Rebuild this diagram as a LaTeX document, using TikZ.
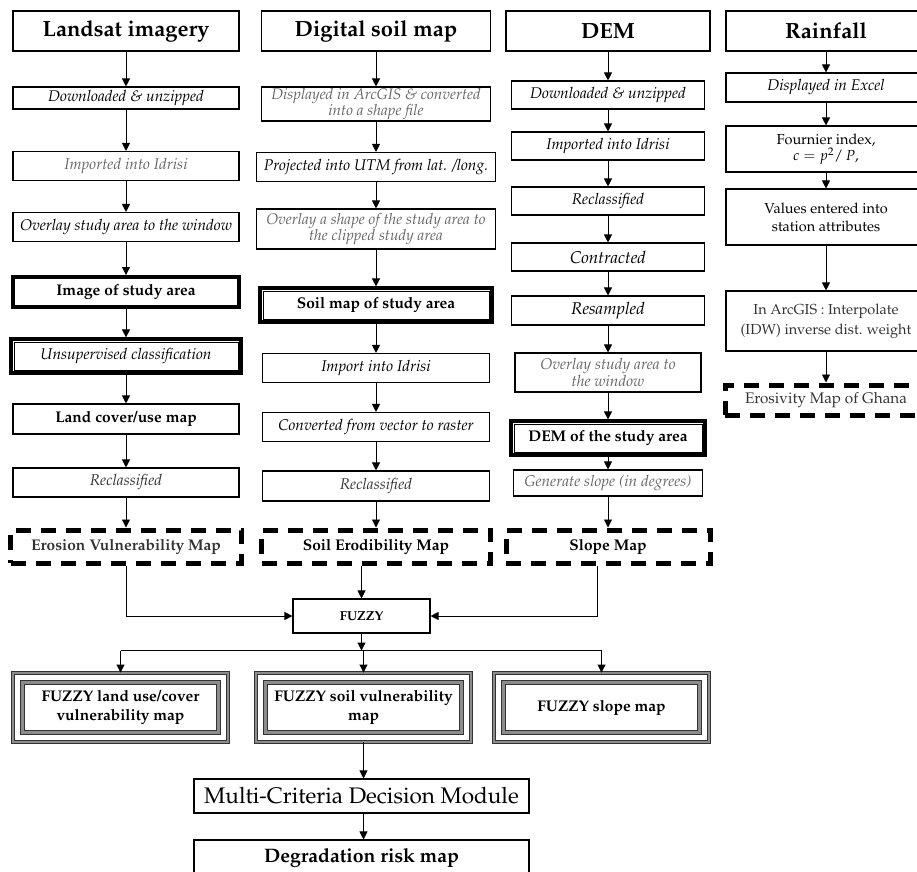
\documentclass[tikz,border=0pt]{standalone}
\usepackage[T1]{fontenc}
\usepackage{mathpazo}
\usetikzlibrary{arrows.meta,calc}
\newcommand\bfont{\fontsize{15.5}{16}\selectfont}
\newcommand\tfont{\fontsize{22}{26}\selectfont}
\begin{document}
\begin{tikzpicture}[x=1pt,y=-1pt]
\tikzset{
 box/.style={draw, line width=1.1pt, inner sep=0pt, align=center, font=\bfont},
 ttl/.style={box, line width=1.3pt, font=\tfont\bfseries},
 it/.style={font=\bfont\itshape},
 bd/.style={font=\bfont\bfseries},
 gr/.style={text=black!60},
 dg/.style={text=black!80},
 thickbox/.style={box, line width=4pt},
 dblbox/.style={box, line width=3.2pt},
 dashbox/.style={box, line width=5pt, dash pattern=on 15pt off 10pt},
 tribox/.style={box, draw=black!80, line width=0.9pt, double=black!45, double distance=2.4pt},
 triline/.style={draw=black!80, line width=0.9pt, double=black!45, double distance=2.4pt},
 arr/.style={line width=0.9pt, -{Triangle[length=8pt,width=8pt]}},
}
\useasboundingbox (0,0) rectangle (917,871);
\clip (0,0) rectangle (917,871);

% ---------- column 1 : Landsat
\node[ttl, minimum width=226, minimum height=40] (l0) at (126,31) {Landsat imagery};
\node[box, it, minimum width=226, minimum height=22] (l1) at (126,98) {Downloaded \& unzipped};
\node[box, it, gr, minimum width=226, minimum height=29] (l2) at (126,166) {Imported into Idrisi};
\node[box, it, minimum width=226, minimum height=29] (l3) at (126,227) {Overlay study area to the window};
\node[thickbox, bd, minimum width=226, minimum height=30] (l4) at (126,292) {Image of study area};
\node[dblbox, it, minimum width=230, minimum height=34] (l5) at (126,356) {Unsupervised classification};
\node[box, bd, minimum width=226, minimum height=30] (l6) at (126,419) {Land cover/use map};
\node[box, it, dg, minimum width=226, minimum height=29] (l7) at (126,482.5) {Reclassified};
\node[dashbox, bd, dg, minimum width=231, minimum height=33] (l8) at (126,546.5) {Erosion Vulnerability Map};

% ---------- column 2 : soil
\node[ttl, minimum width=229, minimum height=40] (d0) at (376,31) {Digital soil map};
\node[box, it, gr, font=\fontsize{15.3}{14.5}\selectfont\itshape, minimum width=229, minimum height=34] (d1) at (376,104) {Displayed in ArcGIS \& converted\\into a shape file};
\node[box, it, minimum width=239, minimum height=29] (d2) at (376,167) {Projected into UTM from lat. /long.};
\node[box, it, gr, font=\fontsize{15.3}{14.5}\selectfont\itshape, minimum width=239, minimum height=40] (d3) at (376,229) {Overlay a shape of the study area to\\the clipped study area};
\node[dblbox, bd, minimum width=232, minimum height=34] (d4) at (376,305) {Soil map of study area};
\node[box, it, minimum width=227, minimum height=29] (d5) at (376,368) {Import into Idrisi};
\node[box, it, minimum width=227, minimum height=29] (d6) at (376,427) {Converted from vector to raster};
\node[box, it, dg, minimum width=227, minimum height=30] (d7) at (376,486) {Reclassified};
\node[dashbox, bd, minimum width=229, minimum height=33] (d8) at (376,546.5) {Soil Erodibility Map};

% ---------- column 3 : DEM
\node[ttl, minimum width=204, minimum height=40] (e0) at (608,31) {DEM};
\node[box, it, minimum width=193, minimum height=28] (e1) at (608,95) {Downloaded \& unzipped};
\node[box, it, minimum width=193, minimum height=28] (e2) at (608,146) {Imported into Idrisi};
\node[box, it, minimum width=193, minimum height=28] (e3) at (608,201) {Reclassified};
\node[box, it, font=\fontsize{17}{18}\selectfont\itshape, minimum width=193, minimum height=28] (e4) at (608,257) {Contracted};
\node[box, it, font=\fontsize{17}{18}\selectfont\itshape, minimum width=193, minimum height=29] (e5) at (608,310.5) {Resampled};
\node[box, it, gr, font=\fontsize{15.5}{15}\selectfont\itshape, minimum width=186, minimum height=39] (e6) at (608,372.5) {Overlay study area to\\the window};
\node[dblbox, bd, minimum width=194, minimum height=34] (e7) at (608,438) {DEM of the study area};
\node[box, it, gr, minimum width=189, minimum height=26] (e8) at (608,483) {Generate slope (in degrees)};
\node[dashbox, bd, minimum width=204, minimum height=33] (e9) at (608,546.5) {Slope Map};

% ---------- column 4 : rainfall
\node[ttl, minimum width=200, minimum height=40] (r0) at (826,31) {Rainfall};
\node[box, it, minimum width=200, minimum height=29] (r1) at (826,87.5) {Displayed in Excel};
\node[box, font=\fontsize{14.5}{15}\selectfont, minimum width=200, minimum height=46] (r2) at (826,149) {Fournier index,\\$c = p^{2}/\,P,$};
\node[box, font=\fontsize{14.5}{18}\selectfont, minimum width=200, minimum height=56] (r3) at (826,217) {Values entered into\\station attributes};
\node[box, dg, font=\fontsize{14.5}{20}\selectfont, minimum width=200, minimum height=60] (r4) at (826,321) {In ArcGIS : Interpolate\\(IDW) inverse dist. weight};
\node[dashbox, dg, font=\fontsize{15.3}{16}\selectfont, minimum width=202, minimum height=30] (r5) at (826,400) {Erosivity Map of Ghana};

% ---------- fuzzy part
\node[box, font=\fontsize{13}{15}\selectfont\bfseries, minimum width=137, minimum height=34] (fz) at (361.5,616) {FUZZY};
\node[tribox, font=\fontsize{15.5}{19}\selectfont\bfseries, minimum width=215, minimum height=69] (f1) at (120.5,707.5) {FUZZY land use/cover\\vulnerability map};
\node[tribox, font=\fontsize{15.5}{19}\selectfont\bfseries, minimum width=215, minimum height=69] (f2) at (363.5,707.5) {FUZZY soil vulnerability\\map};
\node[tribox, font=\fontsize{15.5}{19}\selectfont\bfseries, minimum width=215, minimum height=69] (f3) at (601.5,707.5) {FUZZY slope map};
\foreach \n in {f1,f2,f3}
  \draw[triline] ([shift={(10pt,-10pt)}]\n.north west) rectangle ([shift={(-10pt,10pt)}]\n.south east);
\node[box, font=\fontsize{22.5}{26}\selectfont, minimum width=335, minimum height=34] (mc) at (361.5,796) {Multi-Criteria Decision Module};
\node[box, font=\fontsize{19.5}{22}\selectfont\bfseries, minimum width=335, minimum height=36] (dr) at (361.5,858) {Degradation risk map};

% inner frames of double boxes
\foreach \n in {l5,d4,e7}
  \draw[line width=0.8pt] ([shift={(4.7pt,-4.7pt)}]\n.north west) rectangle ([shift={(-4.7pt,4.7pt)}]\n.south east);

% ---------- arrows in columns
\foreach \a/\b in {l0/l1,l1/l2,l2/l3,l3/l4,l4/l5,l5/l6,l6/l7,l7/l8,
                   d0/d1,d1/d2,d2/d3,d3/d4,d4/d5,d5/d6,d6/d7,d7/d8,
                   e0/e1,e1/e2,e2/e3,e3/e4,e4/e5,e5/e6,e6/e7,e7/e8,e8/e9,
                   r0/r1,r1/r2,r2/r3,r3/r4,r4/r5}
  \draw[arr] (\a.south) -- (\a.south |- \b.north);

% ---------- to FUZZY
\draw[arr] (l8.south) |- (fz.west);
\draw[arr] ([xshift=-11pt]e9.south) |- (fz.east);
\draw[arr] (d8.south -| fz.north) -- (fz.north);
\coordinate (sp) at ($(fz.south)+(0,17)$);
\draw[arr] (fz.south) -- (sp);
\draw[line width=0.9pt] (sp -| f1.north) -- (sp -| f3.north);
\foreach \n in {f1,f2,f3}
  \draw[arr] (sp -| \n.north) -- (\n.north);
\draw[arr] (f2.south) -- (f2.south |- mc.north);
\draw[arr] (mc.south -| f2.south) -- (f2.south |- dr.north);
\end{tikzpicture}
\end{document}
